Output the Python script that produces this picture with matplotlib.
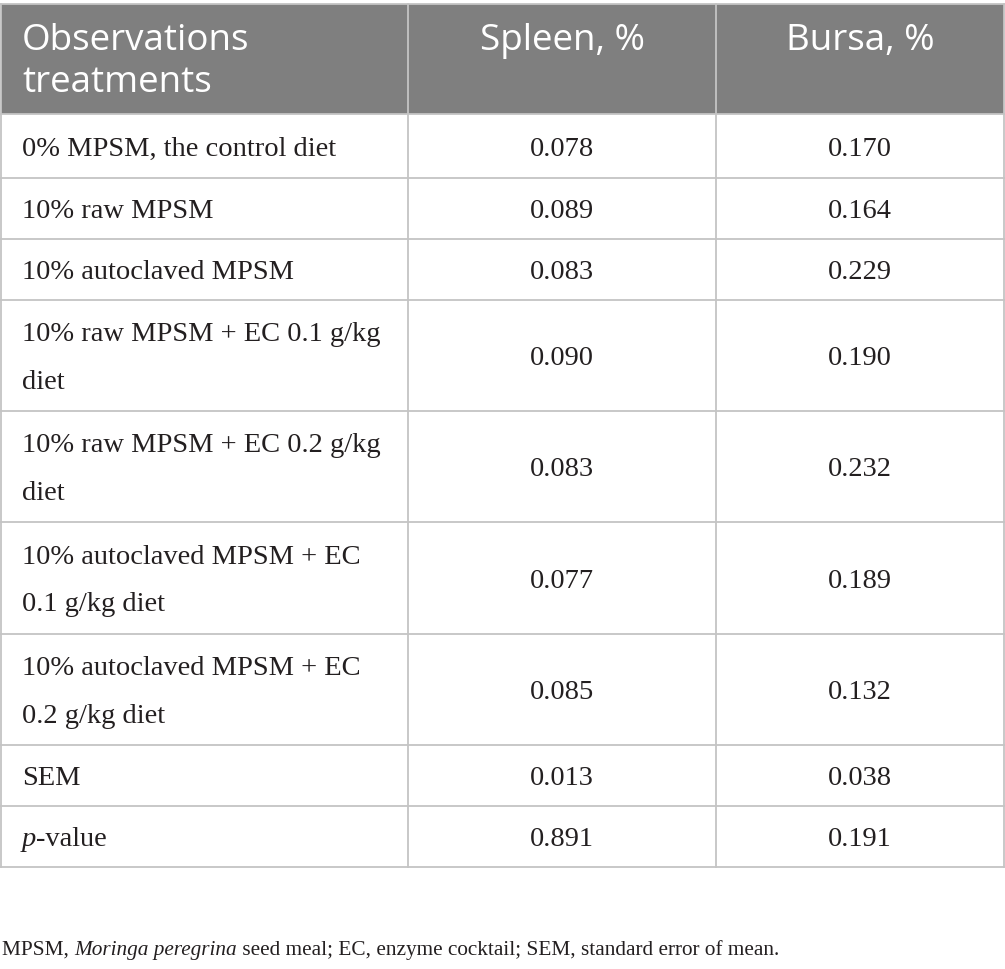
import matplotlib.pyplot as plt

headers = ["Observations\ntreatments", "Spleen, %", "Bursa, %"]
treatments = [
    "0% MPSM, the control diet",
    "10% raw MPSM",
    "10% autoclaved MPSM",
    "10% raw MPSM + EC 0.1 g/kg\ndiet",
    "10% raw MPSM + EC 0.2 g/kg\ndiet",
    "10% autoclaved MPSM + EC\n0.1 g/kg diet",
    "10% autoclaved MPSM + EC\n0.2 g/kg diet",
    "SEM",
]
spleen = ["0.078", "0.089", "0.083", "0.090", "0.083", "0.077", "0.085", "0.013", "0.891"]
bursa = ["0.170", "0.164", "0.229", "0.190", "0.232", "0.189", "0.132", "0.038", "0.191"]

W, H = 1005, 969
fig = plt.figure(figsize=(W / 100, H / 100), dpi=100)
ax = fig.add_axes([0, 0, 1, 1])
ax.set_xlim(0, W)
ax.set_ylim(H, 0)
ax.axis('off')

col_x = [1, 408, 716, 1004]
row_y = [4, 114, 178, 239, 300, 411, 522, 634, 745, 806, 867]
line_c = '#c4c4c4'
header_c = '#7f7f7f'
serif = 'Liberation Serif'
ink = '#231f20'
body_fs = 20.5

# header band
ax.add_patch(plt.Rectangle((col_x[0], row_y[0]), col_x[-1] - col_x[0], row_y[1] - row_y[0],
                           facecolor=header_c, edgecolor='none'))

for y in row_y:
    ax.plot([col_x[0], col_x[-1]], [y, y], color=line_c, lw=1.3)
for x in col_x:
    ax.plot([x, x], [row_y[0], row_y[-1]], color=line_c, lw=1.3)

# header text
ax.text(22, 62, headers[0], ha='left', va='center',
        color='white', fontsize=26.5, family='Open Sans', linespacing=1.2)
for i, h in enumerate(headers[1:]):
    cx = (col_x[i + 1] + col_x[i + 2]) / 2
    ax.text(cx, 41, h, ha='center', va='center', color='white', fontsize=26.5, family='Open Sans')

# body rows
labels = treatments + [None]
for r in range(len(spleen)):
    y0, y1 = row_y[r + 1], row_y[r + 2]
    cy = (y0 + y1) / 2 + 3
    lab = labels[r]
    if lab is not None:
        ax.text(22, cy, lab, ha='left', va='center', fontsize=body_fs, family=serif,
                color=ink, linespacing=2.2)
    ax.text((col_x[1] + col_x[2]) / 2, cy, spleen[r], ha='center', va='center',
            fontsize=body_fs, family=serif, color=ink)
    ax.text((col_x[2] + col_x[3]) / 2, cy, bursa[r], ha='center', va='center',
            fontsize=body_fs, family=serif, color=ink)

renderer = fig.canvas.get_renderer()


def run_text(x, y, parts, fs):
    for s, style in parts:
        t = ax.text(x, y, s, ha='left', va='baseline', fontsize=fs, family=serif,
                    style=style, color=ink)
        bb = t.get_window_extent(renderer)
        x += bb.width * W / fig.bbox.width


# p-value row label
py = (row_y[-2] + row_y[-1]) / 2 + 10
run_text(22, py, [("p", 'italic'), ("-value", 'normal')], body_fs)

# footnote
run_text(2, 955, [("MPSM, ", 'normal'), ("Moringa peregrina", 'italic'),
                  (" seed meal; EC, enzyme cocktail; SEM, standard error of mean.", 'normal')], 15.3)

fig.savefig('out.png', dpi=100)
